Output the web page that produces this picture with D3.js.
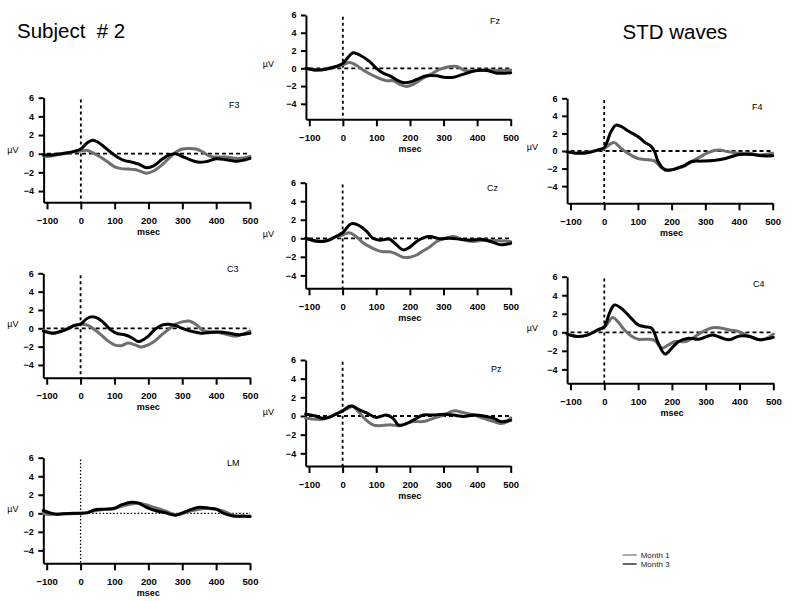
<!DOCTYPE html>
<html><head><meta charset="utf-8">
<script src="https://cdn.jsdelivr.net/npm/d3@7"></script>
<style>
body{margin:0;background:#fff}
svg{display:block}
text{font-family:"Liberation Sans",Arial,Helvetica,sans-serif}
</style>
</head><body>
<svg id="chart" width="800" height="601"></svg>
<script>
// ---------------- data ----------------
const xTicks = [-100, 0, 100, 200, 300, 400, 500];
const yTicks = [-4, -2, 0, 2, 4, 6];
const seriesNames = ["Month 1", "Month 3"];
const channelNames = ["F3", "Fz", "F4", "C3", "Cz", "C4", "LM", "Pz"];

// [msec, µV]
const F3_m1 = [[-110,-0.25],[-100,-0.3],[-80,-0.2],[-60,-0.05],[-40,0.05],[-20,0.2],[0,0.3],[20,0.35],[40,0.0],[60,-0.4],[80,-0.9],[100,-1.4],[120,-1.6],[140,-1.65],[160,-1.7],[180,-1.95],[195,-2.1],[215,-1.85],[240,-1.2],[260,-0.5],[280,0.15],[300,0.5],[320,0.55],[340,0.5],[360,0.2],[380,-0.25],[400,-0.35],[430,-0.35],[460,-0.5],[480,-0.45],[500,-0.3]];
const F3_m3 = [[-110,-0.15],[-100,-0.15],[-80,-0.1],[-60,0],[-40,0.1],[-20,0.25],[0,0.5],[20,1.2],[35,1.45],[50,1.25],[70,0.7],[90,0.1],[110,-0.4],[130,-0.75],[150,-0.9],[170,-1.1],[195,-1.5],[215,-1.3],[240,-0.6],[260,-0.15],[280,0],[300,-0.3],[320,-0.6],[345,-0.9],[370,-0.85],[400,-0.55],[430,-0.65],[460,-0.8],[480,-0.7],[500,-0.5]];

const Fz_m1 = [[-110,0],[-80,-0.2],[-50,-0.05],[-20,0.2],[0,0.4],[20,0.65],[40,0.35],[60,-0.2],[100,-1.0],[130,-1.4],[150,-1.4],[170,-1.8],[190,-2.05],[210,-1.8],[240,-1.1],[270,-0.5],[290,-0.1],[320,0.2],[340,0.2],[360,-0.2],[380,-0.3],[420,-0.2],[460,-0.25],[500,-0.2]];
const Fz_m3 = [[-110,0],[-80,-0.2],[-50,-0.1],[-20,0.2],[0,0.55],[15,1.2],[30,1.75],[50,1.5],[80,0.75],[100,0],[120,-0.55],[140,-0.85],[160,-1.3],[180,-1.6],[200,-1.55],[220,-1.25],[250,-0.85],[280,-0.85],[300,-1.0],[330,-1.0],[360,-0.65],[400,-0.25],[430,-0.25],[460,-0.55],[500,-0.5]];

const F4_m1 = [[-110,-0.1],[-80,-0.25],[-50,-0.15],[-20,0.1],[0,0.3],[20,0.85],[30,0.95],[50,0.3],[70,-0.25],[100,-0.85],[130,-1.0],[150,-1.15],[170,-1.9],[190,-2.15],[210,-2.05],[240,-1.7],[260,-1.2],[290,-0.55],[310,-0.15],[340,0.1],[370,-0.1],[400,-0.25],[430,-0.25],[460,-0.45],[500,-0.25]];
const F4_m3 = [[-110,-0.1],[-80,-0.25],[-50,-0.2],[-20,0.1],[0,0.4],[20,2.2],[35,2.95],[50,2.8],[70,2.3],[100,1.65],[120,1.0],[140,0.5],[150,-0.1],[160,-1.2],[180,-2.15],[200,-2.15],[220,-1.9],[240,-1.6],[260,-1.2],[290,-1.15],[330,-1.05],[360,-0.85],[400,-0.4],[440,-0.4],[470,-0.55],[500,-0.55]];

const C3_m1 = [[-110,-0.2],[-80,-0.5],[-60,-0.35],[-40,-0.05],[-20,0.3],[0,0.45],[20,0.35],[40,-0.1],[60,-0.7],[80,-1.35],[100,-1.8],[120,-1.9],[140,-1.6],[160,-1.8],[180,-2.05],[200,-1.8],[220,-1.35],[240,-0.7],[260,-0.1],[280,0.45],[300,0.7],[320,0.8],[340,0.45],[360,-0.2],[380,-0.4],[400,-0.4],[430,-0.65],[460,-0.85],[480,-0.6],[500,-0.3]];
const C3_m3 = [[-110,-0.3],[-80,-0.55],[-60,-0.35],[-40,-0.1],[-20,0.3],[0,0.45],[20,1.1],[35,1.25],[50,1.1],[70,0.55],[90,-0.2],[110,-0.6],[130,-0.7],[150,-1.0],[170,-1.45],[180,-1.35],[200,-0.85],[220,-0.1],[240,0.35],[260,0.45],[280,0.3],[300,0],[330,-0.35],[360,-0.55],[380,-0.45],[410,-0.4],[440,-0.55],[470,-0.7],[500,-0.55]];

const Cz_m1 = [[-110,0],[-80,-0.3],[-60,-0.3],[-40,-0.15],[-20,0.2],[0,0.35],[20,0.6],[40,0.2],[60,-0.45],[80,-0.9],[100,-1.25],[120,-1.45],[140,-1.45],[160,-1.7],[180,-2.05],[200,-2.05],[220,-1.8],[240,-1.35],[260,-0.9],[280,-0.35],[300,-0.05],[330,0.2],[360,-0.2],[390,-0.35],[420,-0.2],[460,-0.25],[500,-0.35]];
const Cz_m3 = [[-110,0],[-80,-0.3],[-60,-0.35],[-40,-0.2],[-20,0.2],[0,0.6],[20,1.45],[30,1.6],[50,1.35],[70,0.8],[90,0],[110,-0.2],[140,-0.1],[160,-0.7],[180,-1.25],[200,-0.95],[220,-0.35],[240,0.05],[260,0.2],[290,-0.05],[320,0],[350,-0.1],[380,-0.2],[410,-0.1],[440,-0.35],[470,-0.7],[500,-0.55]];

const C4_m1 = [[-110,-0.2],[-80,-0.45],[-50,-0.3],[-20,0.25],[0,0.55],[25,1.6],[40,1.15],[60,0.25],[80,-0.4],[100,-0.75],[130,-0.75],[150,-0.9],[170,-1.7],[190,-1.35],[210,-1.0],[240,-1.0],[260,-0.65],[290,0.05],[320,0.5],[340,0.5],[370,0.25],[400,0.05],[430,-0.45],[460,-0.8],[480,-0.65],[500,-0.2]];
const C4_m3 = [[-110,-0.2],[-80,-0.45],[-50,-0.3],[-20,0.25],[0,0.6],[15,2.05],[30,2.95],[50,2.6],[80,1.5],[100,0.8],[120,0.6],[140,0.45],[160,-1.2],[180,-2.35],[200,-1.7],[220,-1.0],[250,-0.65],[280,-0.75],[320,-0.3],[350,-0.65],[370,-0.8],[400,-0.4],[430,-0.45],[460,-0.8],[500,-0.55]];

const LM_m1 = [[-110,0],[-100,-0.1],[-70,-0.1],[-50,-0.05],[0,0],[40,0.25],[70,0.4],[100,0.5],[120,0.75],[150,1.0],[170,1.1],[190,0.95],[220,0.6],[250,0.25],[280,-0.15],[300,-0.05],[330,0.3],[360,0.5],[390,0.5],[420,0.25],[450,-0.2],[470,-0.35],[500,-0.3]];
const LM_m3 = [[-110,0.3],[-90,0.05],[-70,-0.1],[-50,-0.05],[-20,0],[0,0],[20,0.05],[40,0.35],[70,0.45],[100,0.55],[120,0.9],[150,1.2],[170,1.1],[200,0.55],[220,0.3],[250,0.05],[280,-0.2],[300,0.05],[330,0.45],[350,0.65],[380,0.55],[400,0.45],[420,0.05],[450,-0.3],[480,-0.3],[500,-0.35]];

const Pz_m1 = [[-110,-0.25],[-80,-0.35],[-60,-0.35],[-40,-0.1],[-20,0.2],[0,0.55],[20,0.9],[30,1.05],[50,0.35],[70,-0.45],[90,-0.95],[110,-1.05],[140,-0.95],[170,-1.05],[190,-0.8],[210,-0.6],[240,-0.6],[270,-0.25],[300,0.1],[330,0.55],[360,0.35],[390,0.1],[420,-0.25],[450,-0.6],[470,-0.8],[490,-0.6],[500,-0.2]];
const Pz_m3 = [[-110,0.2],[-80,0],[-60,-0.25],[-40,-0.15],[-20,0.2],[0,0.55],[20,1.05],[30,1.05],[50,0.65],[70,0.35],[100,-0.15],[130,0.1],[150,-0.25],[165,-0.95],[180,-0.95],[210,-0.45],[240,0.1],[270,0.1],[300,0.2],[330,0.1],[360,-0.05],[390,0.1],[420,0],[450,-0.25],[470,-0.6],[500,-0.45]];

const seriesByChannel = {
  F3: [F3_m1, F3_m3], Fz: [Fz_m1, Fz_m3], F4: [F4_m1, F4_m3],
  C3: [C3_m1, C3_m3], Cz: [Cz_m1, Cz_m3], C4: [C4_m1, C4_m3],
  LM: [LM_m1, LM_m3], Pz: [Pz_m1, Pz_m3]
};

// ---------------- layout (pixels) ----------------
const layout = {
  F3: {xa:47,    xb:250,   yTop:97.7,  yZero:153.7, yBot:202.3, lx:229, ly:105,   uvx:18.5, dotted:false},
  Fz: {xa:309.3, xb:510.7, yTop:15,    yZero:68.3,  yBot:119.3, lx:490, ly:20.7,  uvx:274,  dotted:false},
  F4: {xa:570.5, xb:772.7, yTop:98.3,  yZero:151,   yBot:203.3, lx:752, ly:106.7, uvx:538,  dotted:false},
  C3: {xa:46.7,  xb:250,   yTop:273.3, yZero:328.3, yBot:377.7, lx:227, ly:269,   uvx:18.5, dotted:false},
  Cz: {xa:309,   xb:510.7, yTop:182.7, yZero:238.3, yBot:288.3, lx:487, ly:187.3, uvx:274,  dotted:false},
  C4: {xa:570.5, xb:773.3, yTop:276.7, yZero:332.3, yBot:383.3, lx:753, ly:284,   uvx:538,  dotted:false},
  LM: {xa:46.7,  xb:250,   yTop:457.7, yZero:513.3, yBot:563.3, lx:227, ly:462.7, uvx:18.5, dotted:true},
  Pz: {xa:309,   xb:510.7, yTop:360,   yZero:416,   yBot:466,   lx:491, ly:369,   uvx:274,  dotted:false}
};

const colors = ["#6f6f6f", "#000000"];
const svg = d3.select("#chart");
const font = '"Liberation Sans",Arial,Helvetica,sans-serif';

channelNames.forEach(name => {
  const L = layout[name];
  const x = d3.scaleLinear().domain([-100, 500]).range([L.xa, L.xb]);
  const x0 = -110;
  const perUnit = (L.yZero - L.yTop) / 6;
  const yMin = -(L.yBot - L.yZero) / perUnit;
  const y = d3.scaleLinear().domain([yMin, 6]).range([L.yBot, L.yTop]);
  const xs = d3.scaleLinear().domain([x0, 500]).range([x(x0), L.xb]);

  const g = svg.append("g");

  // reference lines
  g.append("line")
    .attr("x1", x(-100)).attr("x2", x(500))
    .attr("y1", y(0)).attr("y2", y(0))
    .attr("stroke", "#000")
    .attr("stroke-width", L.dotted ? 1.3 : 1.8)
    .attr("stroke-dasharray", L.dotted ? "1.5,2" : "4,3");
  g.append("line")
    .attr("x1", x(0)).attr("x2", x(0))
    .attr("y1", y(5.8)).attr("y2", L.yBot)
    .attr("stroke", "#000")
    .attr("stroke-width", L.dotted ? 1.3 : 1.8)
    .attr("stroke-dasharray", L.dotted ? "1.5,2" : "3,3");

  // axes
  const ax = g.append("g").attr("transform", `translate(0,${L.yBot})`)
    .call(d3.axisBottom(xs).tickValues(xTicks).tickSize(7).tickSizeOuter(0));
  ax.select(".domain").attr("stroke-width", 2);
  ax.selectAll(".tick line").attr("stroke-width", 2);
  ax.selectAll(".tick text").attr("y", 21.5).attr("dy", null)
    .attr("font-family", font).attr("font-size", 9.5).attr("font-weight", "bold").attr("fill", "#000");

  const ay = g.append("g").attr("transform", `translate(${xs(x0)},0)`)
    .call(d3.axisLeft(y).tickValues(yTicks).tickSize(5).tickPadding(4.5).tickSizeOuter(0));
  ay.select(".domain").attr("stroke-width", 2);
  ay.selectAll(".tick line").attr("stroke-width", 2);
  ay.selectAll(".tick text")
    .attr("font-family", font).attr("font-size", 9).attr("font-weight", "bold").attr("fill", "#000");

  g.append("text").attr("x", x(200)).attr("y", L.yBot + 32.5)
    .attr("text-anchor", "middle").attr("font-size", 9).attr("font-weight", "bold").text("msec");
  g.append("text").attr("x", L.uvx).attr("y", L.yZero - 4 + 3).attr("text-anchor", "end")
    .attr("font-size", 9).attr("fill", "#000").text("µV");
  g.append("text").attr("x", L.lx).attr("y", L.ly + 3.3).attr("font-size", 9).attr("fill", "#000").text(name);

  // waves
  const line = d3.line().x(d => xs(d[0])).y(d => y(d[1])).curve(d3.curveCatmullRom.alpha(0.5));
  seriesByChannel[name].forEach((s, i) => {
    g.append("path").datum(s).attr("d", line)
      .attr("fill", "none").attr("stroke", colors[i])
      .attr("stroke-width", 3).attr("stroke-linejoin", "round").attr("stroke-linecap", "round");
  });
});

// titles
svg.append("text").attr("x", 17).attr("y", 38).attr("font-size", 20.5)
  .style("white-space", "pre").text("Subject  # 2");
svg.append("text").attr("x", 622.5).attr("y", 39).attr("font-size", 20.5).text("STD waves");

// legend
const leg = svg.append("g");
seriesNames.forEach((n, i) => {
  const yy = 555 + i * 9;
  leg.append("line").attr("x1", 622.7).attr("x2", 636.7).attr("y1", yy).attr("y2", yy)
    .attr("stroke", colors[i]).attr("stroke-width", 1.2);
  leg.append("text").attr("x", 640.7).attr("y", yy + 3).attr("font-size", 8).attr("fill", "#222").text(n);
});
</script>
</body></html>
